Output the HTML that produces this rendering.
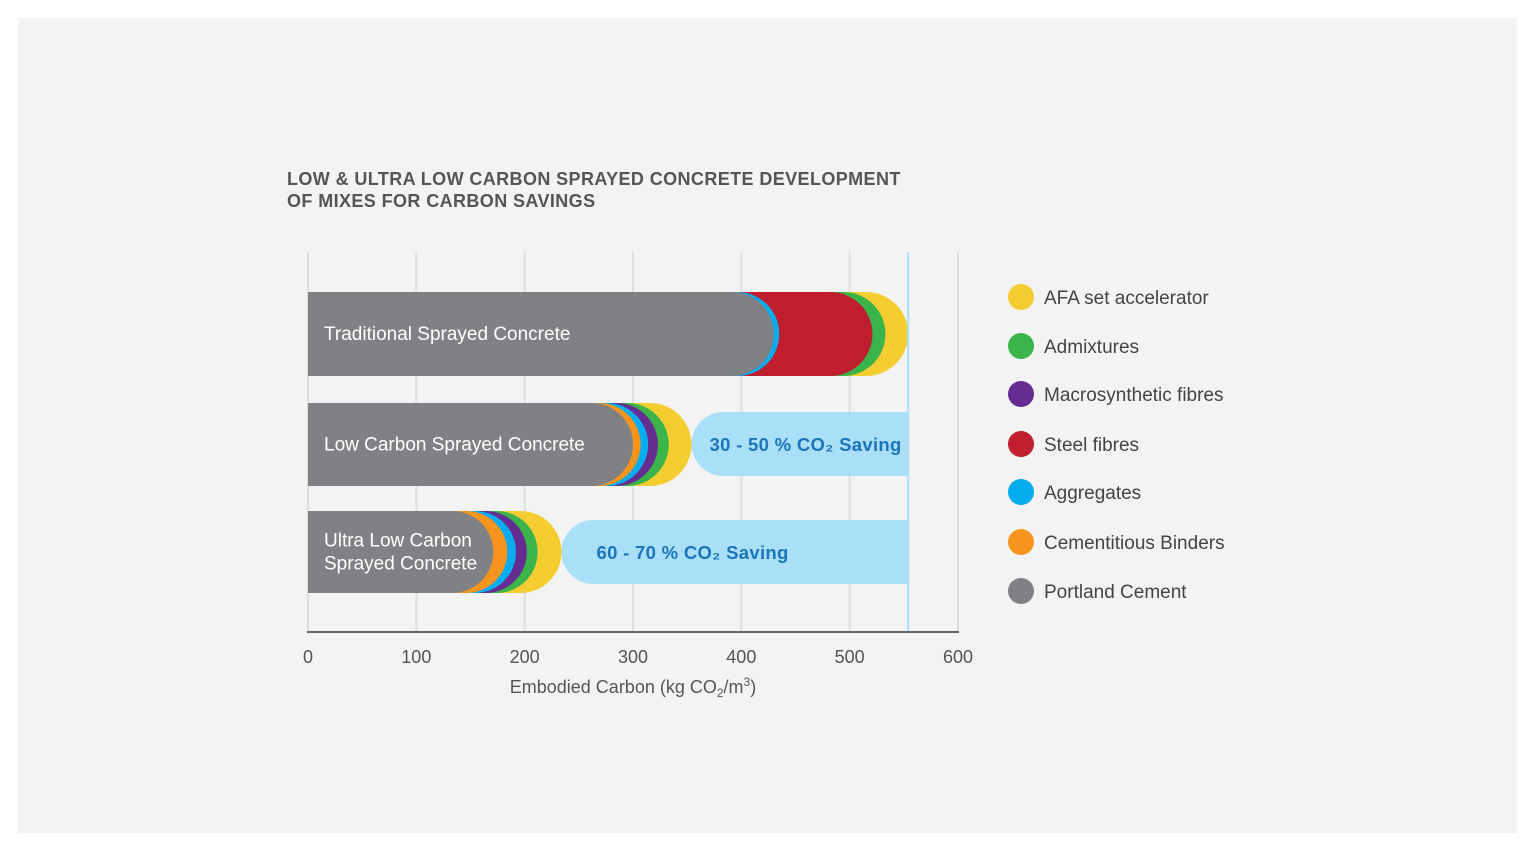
<!DOCTYPE html>
<html><head><meta charset="utf-8"><style>
body{margin:0;background:#fff;font-family:"Liberation Sans",sans-serif;}
#bg{position:absolute;left:18px;top:18px;width:1499px;height:815px;background:#f2f3f2;}
svg{position:absolute;left:0;top:0;}
</style></head><body>
<div id="bg"></div>
<svg id="c" width="1536" height="853">
<text x="287" y="185" font-size="18" font-weight="bold" fill="#555" letter-spacing="0.4">LOW &amp; ULTRA LOW CARBON SPRAYED CONCRETE DEVELOPMENT</text>
<text x="287" y="207" font-size="18" font-weight="bold" fill="#555" letter-spacing="0.4">OF MIXES FOR CARBON SAVINGS</text>
<text x="633" y="693" font-size="18" fill="#555" text-anchor="middle">Embodied Carbon  (kg CO<tspan font-size="12" dy="4">2</tspan><tspan dy="-4">/m</tspan><tspan font-size="12" dy="-7">3</tspan><tspan dy="7">)</tspan></text>
</svg>
<script>
const ticks=[0,100,200,300,400,500,600];
const categories=["Traditional Sprayed Concrete","Low Carbon Sprayed Concrete","Ultra Low Carbon|Sprayed Concrete"];
const seriesNames=["AFA set accelerator","Admixtures","Macrosynthetic fibres","Steel fibres","Aggregates","Cementitious Binders","Portland Cement"];
const seriesColors=["#f4cd31","#3bb44a","#652d91","#be1e2d","#05adef","#f7941d","#808184"];
// cumulative end values per series (order: AFA..Portland), null = absent
const bar1=[554,533,null,521,435,null,430];
const bar2=[354,333,323,null,314,307,300];
const bar3=[234,212,202,null,192,184,171];
const savingsLabels=["","30 - 50 % CO₂ Saving","60 - 70 %  CO₂ Saving"];
const savingsEnd=554;
const bars=[bar1,bar2,bar3];
const svg=document.getElementById('c');const NS='http://www.w3.org/2000/svg';
const X=v=>308+v*650/600;
function el(t,a){const e=document.createElementNS(NS,t);for(const k in a)e.setAttribute(k,a[k]);svg.appendChild(e);return e;}
ticks.forEach(t=>{
 const g=el('line',{x1:X(t),x2:X(t),y1:252,y2:632,stroke:'#dedede','stroke-width':2});
 
 
 const l=el('text',{x:X(t),y:663,'font-size':18,fill:'#555','text-anchor':'middle'});l.textContent=t;
 
 
});
const rowY=[292,403,511],rowH=[84,83,82];
function pill(x0,x1,y,h,fill){const r=h/2;return el('path',{d:`M${x0},${y}H${x1-r}A${r},${r} 0 0 1 ${x1-r},${y+h}H${x0}Z`,fill});}
bars.forEach((b,i)=>{
 if(savingsLabels[i]){
  const y=rowY[i]+9,h=64,x0=X(b[0]),x1=X(savingsEnd);
  const p=el('path',{d:`M${x0+h/2},${y}H${x1}V${y+h}H${x0+h/2}A${h/2},${h/2} 0 0 1 ${x0+h/2},${y}Z`,fill:'#aadff8'});
  
  
  const t=el('text',{x:i==1?X(b[0])+18:X(b[0])+35,y:y+39,'font-size':18.5,'font-weight':'bold',fill:'#1a75bb','letter-spacing':0.3});t.textContent=savingsLabels[i];
  
  
 }
 b.forEach((v,s)=>{if(v==null)return;
  const p=pill(308,X(v),rowY[i],rowH[i],seriesColors[s]);
  
  
 });
 const lines=categories[i].split('|');
 lines.forEach((ln,k)=>{
  const t=el('text',{x:324,y:rowY[i]+rowH[i]/2+6+(lines.length>1?(k-0.5)*23:0),'font-size':19,fill:'#fff'});t.textContent=ln;
  
  
 });
});
const v=el('line',{x1:X(savingsEnd),x2:X(savingsEnd),y1:252,y2:632,stroke:'#aadff8','stroke-width':2});


const ax=el('line',{x1:307,x2:959,y1:632,y2:632,stroke:'#666','stroke-width':2});


const ly=[297,346,394,444,492,542,591];
seriesNames.forEach((n,s)=>{
 const c=el('circle',{cx:1021,cy:ly[s],r:13,fill:seriesColors[s]});
 
 
 const t=el('text',{x:1044,y:ly[s]+7,'font-size':19,fill:'#444'});t.textContent=n;
 
 
});
</script>
</body></html>
